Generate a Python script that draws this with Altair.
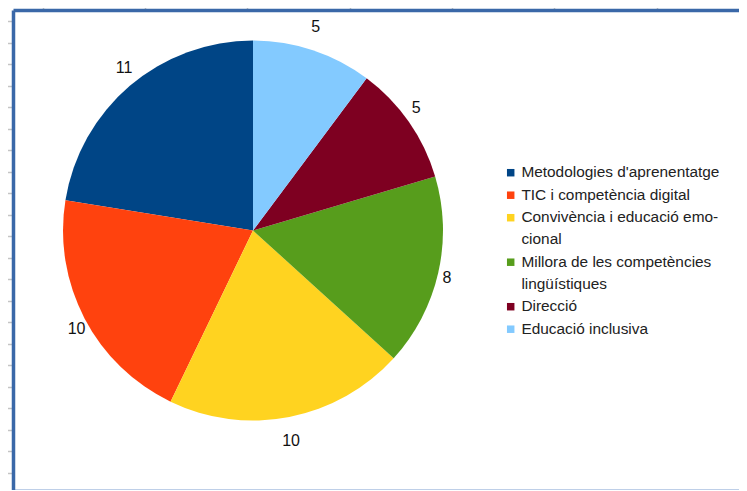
import altair as alt
import pandas as pd

categories = [
    "Metodologies d'aprenentatge",
    "TIC i competència digital",
    "Convivència i educació emocional",
    "Millora de les competències lingüístiques",
    "Direcció",
    "Educació inclusiva",
]
legend_labels = [
    "Metodologies d'aprenentatge",
    "TIC i competència digital",
    "Convivència i educació emo-|cional",
    "Millora de les competències|lingüístiques",
    "Direcció",
    "Educació inclusiva",
]
values = [11, 10, 10, 8, 5, 5]
colors = ["#004586", "#ff420e", "#ffd320", "#579d1c", "#7e0021", "#83caff"]

# spreadsheet ruler marks around the frame (pixel positions within the frame)
ruler_x = [30, 132, 234, 337, 439, 541, 644]
ruler_y = [11, 32.5, 54, 75.5, 97, 118.5, 140, 161.5, 183, 204.5, 226, 247.5,
           269, 290.5, 312, 333.5, 355, 376.5, 398, 419.5, 441, 462.5]

W, H = 726, 480
FRAME = "#3a68a8"

df = pd.DataFrame({
    "category": categories,
    "legend": legend_labels,
    "value": values,
    "ord": [len(categories) - 1 - i for i in range(len(categories))],
})

color_scale = alt.Scale(domain=legend_labels, range=colors)

legend = alt.Legend(
    title=None, orient="none", legendX=490, legendY=159.5,
    symbolType="M-1,-2.2H1V-0.2H-1Z", symbolSize=56, symbolStrokeWidth=0,
    labelFontSize=15.4, labelFont="Liberation Sans", labelColor="#222222",
    labelLimit=400, labelExpr="split(datum.label, '|')",
    labelBaseline="alphabetic", labelOffset=3, rowPadding=5.5,
)

cx, cy = 240, 220.5
RX, RY = 199, 214  # label ellipse (the original pie is slightly stretched vertically)

xscale = alt.Scale(domain=[0, W], nice=False, zero=False)
yscale = alt.Scale(domain=[0, H], nice=False, zero=False, reverse=True)

pie = alt.Chart(df).mark_arc(radius=190, stroke=None).encode(
    theta=alt.Theta("value:Q", stack=True),
    order=alt.Order("ord:Q", sort="ascending"),
    color=alt.Color("legend:N", scale=color_scale, sort=None, legend=legend),
    x=alt.value(cx), y=alt.value(cy),
)

labels = alt.Chart(df).transform_window(
    cum="sum(value)", sort=[alt.SortField("ord", order="ascending")]
).transform_joinaggregate(
    total="sum(value)"
).transform_calculate(
    mid="(datum.cum - datum.value / 2) / datum.total * 2 * PI"
).transform_calculate(
    lx=f"{cx} + {RX} * sin(datum.mid)",
    ly=f"{cy} - {RY} * cos(datum.mid)",
).mark_text(
    fontSize=16, font="Liberation Sans", color="#111111"
).encode(
    x=alt.X("lx:Q", scale=xscale, axis=None),
    y=alt.Y("ly:Q", scale=yscale, axis=None),
    text=alt.Text("value:Q"),
)

one = pd.DataFrame({"v": [0]})

ruler = alt.Chart(one).mark_point(opacity=0).encode(
    x=alt.X("v:Q", scale=xscale,
            axis=alt.Axis(orient="top", values=ruler_x, labels=False, domain=True,
                          domainColor=FRAME, domainWidth=3.5,
                          grid=False, ticks=True, tickSize=7, tickColor="#c4c4c4",
                          tickWidth=1.5, title=None)),
    y=alt.Y("v:Q", scale=yscale,
            axis=alt.Axis(orient="left", values=ruler_y, labels=False, domain=True,
                          domainColor=FRAME, domainWidth=3.5,
                          grid=False, ticks=True, tickSize=6, tickColor="#c4c4c4",
                          tickWidth=1.5, title=None)),
)

bottom = alt.Chart(one).mark_point(opacity=0).encode(
    x=alt.X("v:Q", scale=xscale,
            axis=alt.Axis(orient="bottom", values=ruler_x, labels=False, domain=True,
                          domainColor="#7f9fd2", domainWidth=2,
                          grid=False, ticks=False, title=None)),
    y=alt.Y("v:Q", scale=yscale, axis=None),
)

chart = alt.layer(ruler, bottom, pie, labels).resolve_axis(
    x="independent", y="independent"
).properties(
    width=W, height=H,
    autosize=alt.AutoSizeParams(type="none"),
    padding={"left": 5, "top": 2, "right": 0, "bottom": 0},
    background="white",
).configure(
    style={"guide-label": {"lineHeight": 22}},
    view=alt.ViewConfig(stroke=None, strokeWidth=0),
)

chart.save("out.html", embed_options={"renderer": "svg", "actions": False})
